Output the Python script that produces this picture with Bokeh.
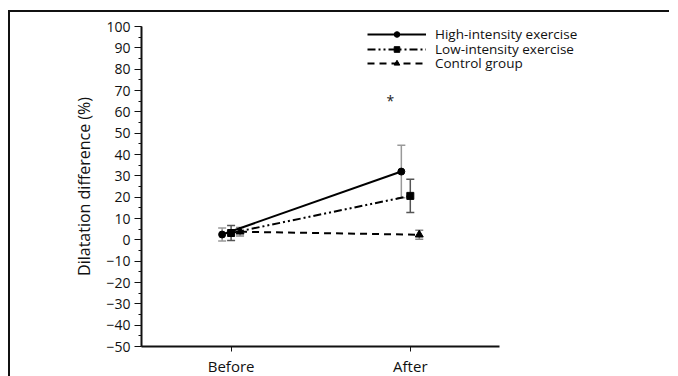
from bokeh.plotting import figure
from bokeh.models import (ColumnDataSource, Whisker, TeeHead, Legend, LegendItem,
                          SingleIntervalTicker, FixedTicker, Range1d)
from bokeh.transform import dodge
from bokeh.core.properties import value
from bokeh.embed import file_html
from bokeh.resources import INLINE

# ---- data ----
times = ["Before", "After"]
groups = ["High-intensity exercise", "Low-intensity exercise", "Control group"]
high_mean = [2.5, 32.0]
high_err = [3.0, 12.3]
low_mean = [3.2, 20.6]
low_err = [3.5, 7.8]
ctrl_mean = [3.8, 2.4]
ctrl_err = [2.0, 2.1]
y_ticks_start, y_ticks_end, y_step = -50, 100, 10
sig_time = ["After"]
sig_y = [65.5]
sig_text = ["*"]

FONT = "Open Sans"

time_pos = list(range(1, len(times) + 1))
x_lo, x_hi = 0.5, len(times) + 0.5

p = figure(x_range=Range1d(x_lo, x_hi + 0.5),
           y_range=Range1d(y_ticks_start, y_ticks_end),
           frame_width=448, frame_height=320,
           min_border_left=131, min_border_top=14, min_border_right=80, min_border_bottom=24,
           output_backend="svg", toolbar_location=None,
           margin=(10, 0, 0, 8),
           styles={"border-top": "2px solid #111", "border-left": "2px solid #111",
                   "border-right": "0px none", "border-bottom": "0px none",
                   "outline": "none", "box-shadow": "none"})
p.outline_line_color = None
p.border_fill_color = "white"
p.xgrid.grid_line_color = None
p.ygrid.grid_line_color = None

specs = [
    (high_mean, high_err, -0.05, "circle", 7, None, "#999999"),
    (low_mean, low_err, 0.0, "square", 7, "8 3 2 3 2 3", "#555555"),
    (ctrl_mean, ctrl_err, 0.05, "triangle", 8, "7 5", "#888888"),
]

items = []
for name, (mean, err, off, marker, size, dash, ecol) in zip(groups, specs):
    src = ColumnDataSource(dict(
        t=time_pos, y=mean,
        lo=[m - e for m, e in zip(mean, err)],
        hi=[m + e for m, e in zip(mean, err)],
    ))
    xs = dodge("t", off)
    w = Whisker(base=xs, upper="hi", lower="lo", source=src,
                line_color=ecol, line_width=1.5,
                upper_head=TeeHead(size=8, line_color=ecol, line_width=1.5),
                lower_head=TeeHead(size=8, line_color=ecol, line_width=1.5))
    p.add_layout(w)
    kw = dict(line_color="black", line_width=2)
    if dash:
        kw["line_dash"] = dash
    ln = p.line(x=xs, y="y", source=src, **kw)
    sc = p.scatter(x=xs, y="y", source=src, marker=marker, size=size,
                   fill_color="black", line_color="black")
    items.append(LegendItem(label=name, renderers=[ln, sc]))

sig_x = [time_pos[times.index(t)] for t in sig_time]
p.text(x=sig_x, y=sig_y, text=sig_text, x_offset=-20,
       text_font=value(FONT), text_font_size="14px", text_align="center",
       text_baseline="middle", text_color="#222")

# one legend per row so the rows sit close together as in the reference
row_locs = [(226, 303), (226, 288.5), (226, 274)]
for item, loc in zip(items, row_locs):
    lg = Legend(items=[item], location=loc, padding=0, margin=0,
                spacing=0, glyph_width=59, glyph_height=14, label_height=14,
                label_standoff=9, border_line_color=None, background_fill_alpha=0,
                label_text_font=FONT, label_text_font_size="13.5px",
                label_text_color="#111")
    p.add_layout(lg, "center")

# axes
ya = p.yaxis[0]
ya.ticker = SingleIntervalTicker(interval=y_step, num_minor_ticks=2)
ya.axis_label = "Dilatation difference (%)"
ya.axis_label_text_font = FONT
ya.axis_label_text_font_size = "16px"
ya.axis_label_text_font_style = "normal"
ya.axis_label_standoff = 8
ya.major_label_text_font = FONT
ya.major_label_text_font_size = "14px"
ya.major_label_standoff = 4
ya.axis_line_width = 2
ya.major_tick_out = 7
ya.major_tick_in = 0
ya.minor_tick_out = 3
ya.minor_tick_in = 0

xa = p.xaxis[0]
xa.ticker = FixedTicker(ticks=time_pos)
xa.major_label_overrides = {pos: t for pos, t in zip(time_pos, times)}
xa.bounds = (x_lo, x_hi)
xa.major_label_text_font = FONT
xa.major_label_text_font_size = "15px"
xa.major_label_standoff = 4
xa.axis_line_width = 2
xa.major_tick_out = 5
xa.major_tick_in = 0
xa.minor_tick_out = 0

for ax in (ya, xa):
    ax.axis_line_color = "#111"
    ax.major_tick_line_color = "#111"
    ax.minor_tick_line_color = "#111"
    ax.major_label_text_color = "#111"
    ax.axis_label_text_color = "#111"

open("out.html", "w").write(file_html(p, INLINE))
